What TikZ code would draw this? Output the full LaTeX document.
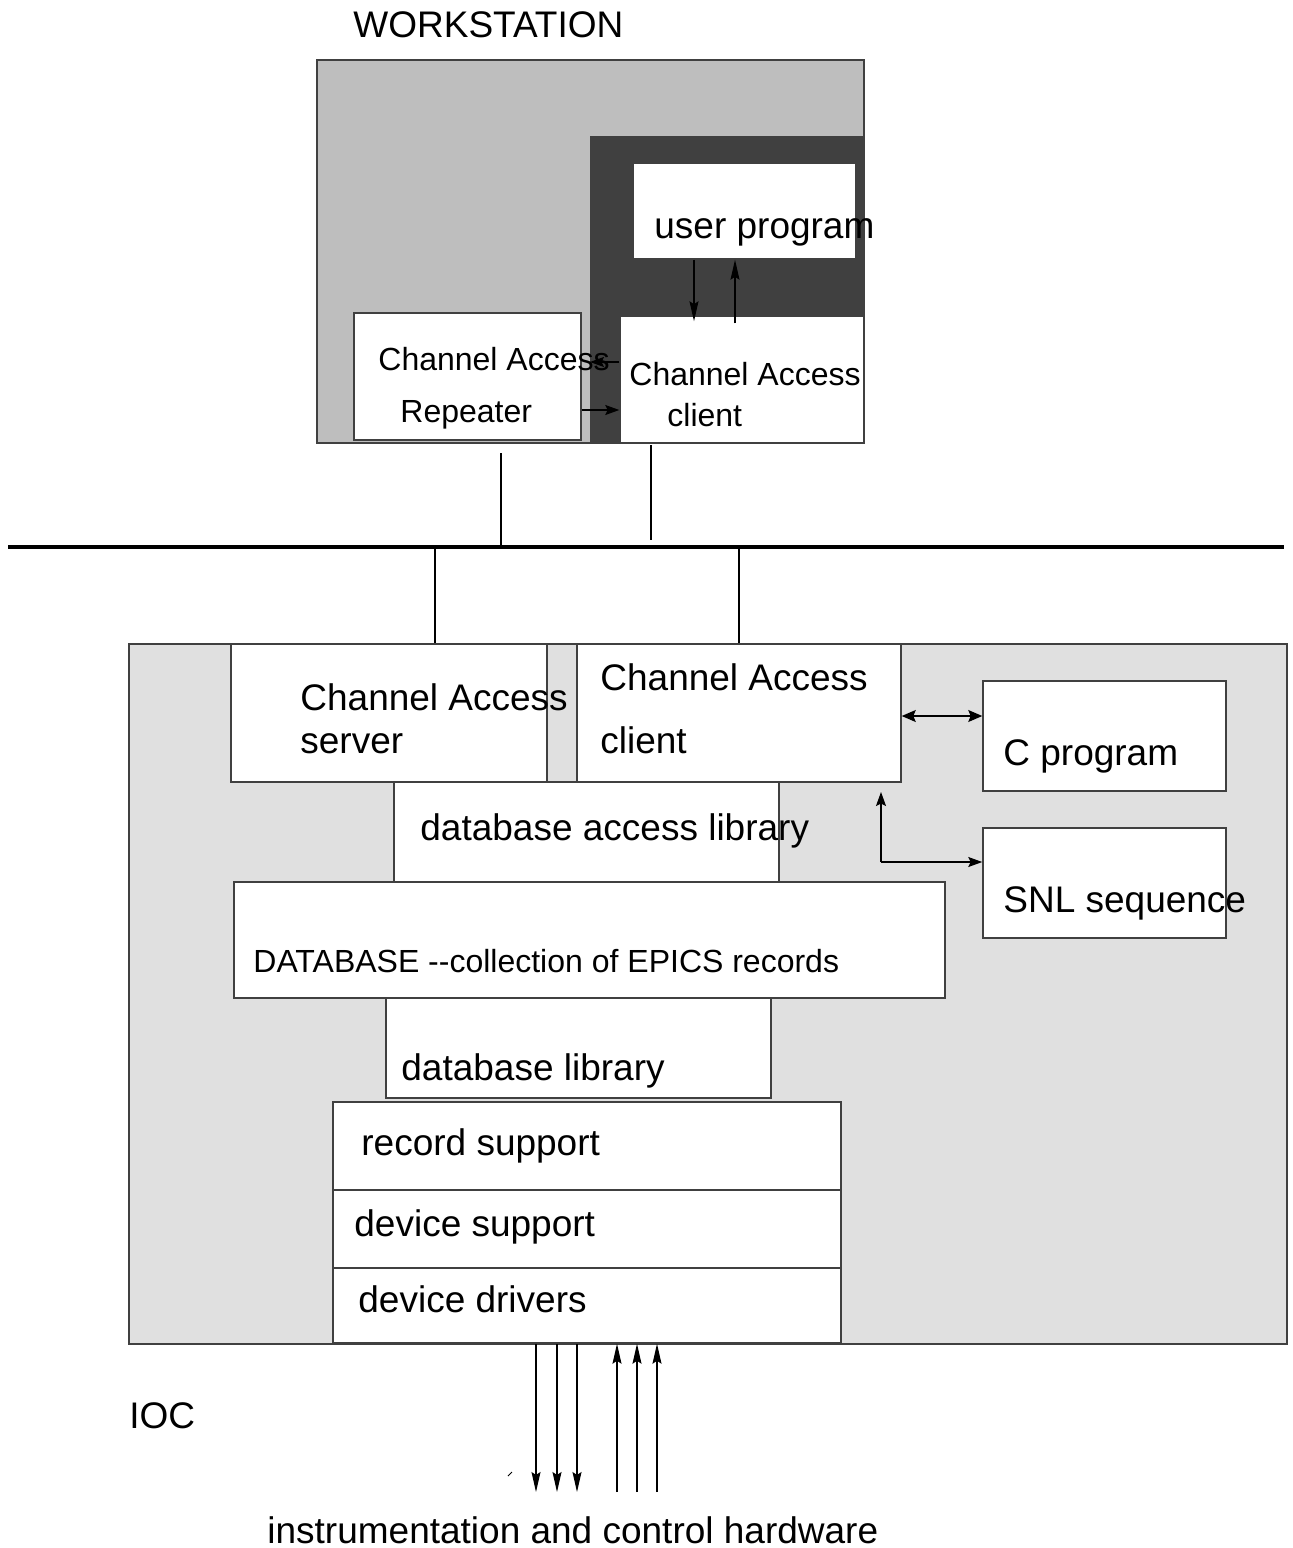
\documentclass[tikz,border=0pt]{standalone}
\usepackage{fontspec}
\setmainfont{Liberation Sans}
\usetikzlibrary{fit,arrows.meta}
\definecolor{wsgray}{HTML}{BEBEBE}
\definecolor{darkfill}{HTML}{404040}
\definecolor{iocgray}{HTML}{E0E0E0}
\definecolor{edge}{HTML}{404040}
\tikzset{
  box/.style={draw=edge, line width=0.75pt, fill=white, inner sep=0pt},
  big/.style={anchor=base west, inner sep=0pt, font=\fontsize{18.5}{22}\selectfont},
  small/.style={anchor=base west, inner sep=0pt, font=\fontsize{16}{19}\selectfont},
  arrbig/.style={line width=0.6pt, -{Stealth[length=10pt,width=4.5pt,inset=1.5pt]}},
  arrmid/.style={line width=0.6pt, -{Stealth[length=7pt,width=5pt,inset=1.2pt]}},
  arrdbl/.style={line width=0.6pt, {Stealth[length=7pt,width=6pt,inset=1.2pt]}-{Stealth[length=7pt,width=6pt,inset=1.2pt]}},
  link/.style={line width=1.4pt},
}
\begin{document}
\begin{tikzpicture}[x=0.5pt,y=-0.5pt]
\useasboundingbox (0,0) rectangle (1293,1548);
% ---------- workstation ----------
\node[box, fill=wsgray, fit={(317,60) (864,443)}] (ws) {};
\node[box, fill=darkfill, fit={(591,137) (864,443)}] (dark) {};
\node[box, fit={(633,163) (856,259)}] (up) {};
\node[box, fit={(620,316) (864,443)}] (cac) {};
\node[box, fit={(354,313) (581,440)}] (rep) {};
\node[big] (wst) at (353,37) {WORKSTATION};
\node[big] (upt) at (654,238) {user program};
\node[small] (rep1) at (378,370) {Channel Access};
\node[small] (rep2) at (400,422) {Repeater};
\node[small] (cac1) at (629,385) {Channel Access};
\node[small] (cac2) at (667,426) {client};
% arrows in workstation
\coordinate (xd) at (694,0);
\coordinate (xu) at (735,0);
\draw[arrbig] (up.south -| xd) -- ([yshift=-3pt]cac.north -| xd);
\draw[arrbig] ([yshift=-4pt]cac.north -| xu) -- (up.south -| xu);
\coordinate (ya) at (0,362);
\coordinate (yb) at (0,410);
\coordinate (xa) at (590,0);
\draw[arrmid] (cac.west |- ya) -- (xa |- ya);
\draw[arrmid] (rep.east |- yb) -- (cac.west |- yb);
% ---------- network ----------
\coordinate (netL) at (8,547);
\coordinate (netR) at (1284,547);
\draw[line width=1.6pt] (netL) -- (netR);
\coordinate (w1) at (501,453);
\coordinate (w2) at (651,445);
\draw[link] (w1) -- (w1 |- netL);
\draw[link] (w2) -- (651,540);
% ---------- IOC ----------
\node[box, fill=iocgray, fit={(129,644) (1287,1344)}] (ioc) {};
\draw[link] (435,547) -- (435,643);
\draw[link] (739,547) -- (739,643);
\node[box, fit={(231,644) (547,782)}] (cas) {};
\node[box, fit={(577,644) (901,782)}] (cacl) {};
\node[box, fit={(983,681) (1226,791)}] (cp) {};
\node[box, fit={(983,828) (1226,938)}] (snl) {};
\node[box, fit={(394,782) (779,882)}] (dal) {};
\node[box, fit={(234,882) (945,998)}] (db) {};
\node[box, fit={(386,998) (771,1098)}] (dbl) {};
\node[box, fit={(333,1102) (841,1190)}] (rs) {};
\node[box, fit={(333,1190) (841,1268)}] (ds) {};
\node[box, fit={(333,1268) (841,1343)}] (dd) {};
\node[big] (cast1) at (300,710) {Channel Access};
\node[big] (cast2) at (300,753) {server};
\node[big] (caclt1) at (600,690) {Channel Access};
\node[big] (caclt2) at (600,753) {client};
\node[big] (cpt) at (1003,765) {C program};
\node[big] (snlt) at (1003,912) {SNL sequence};
\node[big] (dalt) at (420,840) {database access library};
\node[small] (dbt) at (253,972) {DATABASE -{}-collection of EPICS records};
\node[big] (dblt) at (401,1080) {database library};
\node[big] (rst) at (361,1155) {record support};
\node[big] (dst) at (354,1236) {device support};
\node[big] (ddt) at (358,1312) {device drivers};
\node[big] (ioct) at (129,1428) {IOC};
\node[big] (hwt) at (267,1543) {instrumentation and control hardware};
% arrows in IOC
\coordinate (yc) at (0,716);
\draw[arrdbl] (cacl.east |- yc) -- (cp.west |- yc);
\coordinate (corner) at (881,862);
\draw[arrmid] (corner) -- (881,792);
\draw[arrmid] (corner) -- (snl.west |- corner);
% arrows to hardware
\foreach \x in {536,557,577} {
  \draw[arrbig] (dd.south -| \x,0) -- (\x,1492);
}
\foreach \x in {617,637,657} {
  \draw[arrbig] (\x,1492) -- (dd.south -| \x,0);
}
\draw[line width=0.5pt] (508,1476) -- (512,1472);
\end{tikzpicture}
\end{document}
